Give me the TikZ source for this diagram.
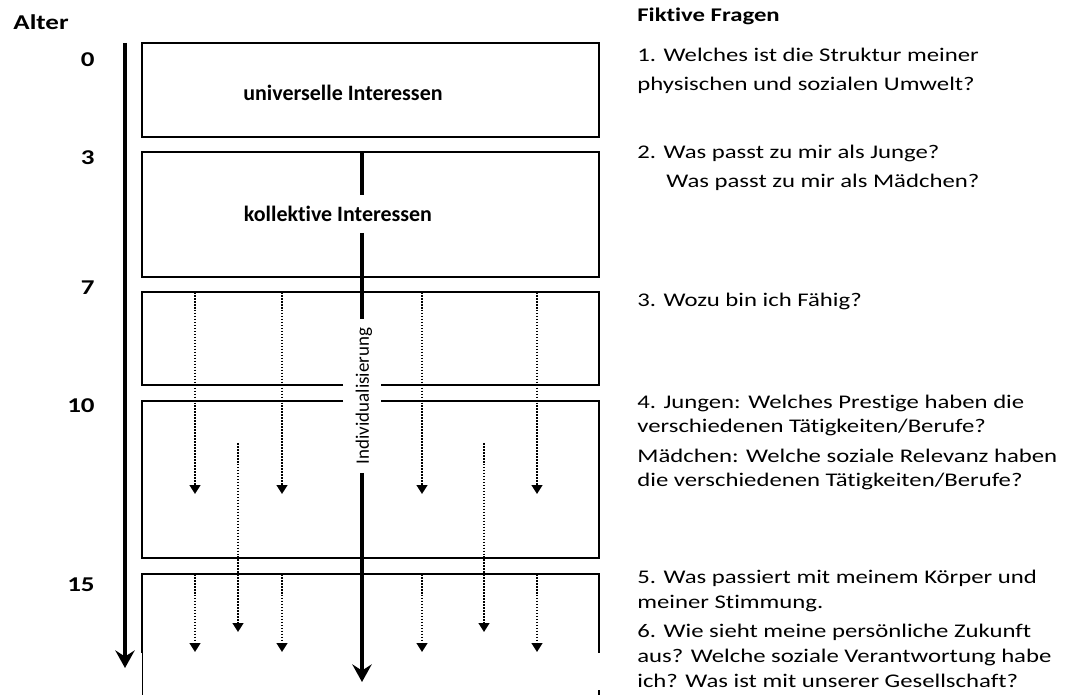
\documentclass[tikz,border=0pt]{standalone}
\usepackage{fontspec}
\setmainfont{Carlito}[Ligatures=NoCommon]
\newfontfamily\widefont{Carlito}[FakeStretch=1.28,Ligatures=NoCommon]
\usetikzlibrary{arrows.meta}
\begin{document}
\begin{tikzpicture}
[x=0.02cm, y=-0.02cm,
  boxDecorate/.style={line width=1.1pt},
  axisDecorate/.style={line width=2pt,-{Stealth[length=10pt,width=11pt,inset=3.5pt]}},
  flowDecorate/.style={line width=1.1pt,dash pattern=on 0.9pt off 0.8pt,-{Triangle[length=5pt,width=6pt]}},
  ageDecorate/.style={inner sep=0pt,font=\widefont\bfseries\fontsize{12}{14}\selectfont},
  labelDecorate/.style={font=\bfseries\fontsize{12.5}{14}\selectfont},
  questDecorate/.style={anchor=base west,inner sep=0pt,font=\widefont\fontsize{11}{13}\selectfont}]
\useasboundingbox (0,0) rectangle (1065,695);
%% headings
\node (alter) at (41,30) [ageDecorate,anchor=base] {Alter};
\node (fragen) at (637,22) [questDecorate] {\bfseries Fiktive Fragen};
%% ages
\foreach \nodename/\y in {0/67, 3/165, 7/295, 10/413, 15/592}
{
  \node (age\nodename) at (95,\y) [ageDecorate,anchor=base east] {\nodename};
}
%% boxes
\draw[boxDecorate] (142,43) rectangle (599,137);
\draw[boxDecorate] (142,152) rectangle (599,277);
\draw[boxDecorate] (343,385) -| (142,292) -| (599,385) -- (381,385);
\draw[boxDecorate] (343,401) -| (142,558) -| (599,401) -- (381,401);
\draw[boxDecorate] (142,653) |- (599,574) -- (599,653);
\draw[thin] (142,653) -- (142,695);
\draw[boxDecorate] (599,690) -- (599,695);
\node (univ) at (343,93) [labelDecorate] {universelle Interessen};
\node (koll) at (338,214) [labelDecorate] {kollektive Interessen};
\node (indiv) at (364,396) [rotate=90,font=\fontsize{10.8}{12}\selectfont] {Individualisierung};
%% axis and middle line
\coordinate (a0) at (125,43);
\coordinate (a1) at (125,668);
\coordinate (m0) at (362,152);
\coordinate (m1) at (362,195);
\coordinate (m2) at (362,233);
\coordinate (m3) at (362,319);
\coordinate (m4) at (362,473);
\coordinate (m5) at (362,682);
\draw[axisDecorate] (a0) -- (a1);
\draw[line width=2pt] (m0) -- (m1) (m2) -- (m3);
\draw[axisDecorate] (m4) -- (m5);
%% dotted arrows
\foreach \nodename/\x/\ya/\yb in {
  a/195/292/494, b/282/292/494, c/422/292/494, d/537/292/494,
  e/195/574/652, f/282/574/652, g/422/574/652, h/537/574/652,
  i/238/443/632, j/484/443/632}
{
  \coordinate (\nodename s) at (\x,\ya);
  \coordinate (\nodename e) at (\x,\yb);
}
\path
\foreach \nodename in {a,b,c,d,e,f,g,h,i,j}
{
  (\nodename s) edge[flowDecorate] (\nodename e)
};
%% questions
\foreach \nodename/\x/\y/\txt in {
  q1a/637/62/{1. Welches ist die Struktur meiner},
  q1b/637/91/{physischen und sozialen Umwelt?},
  q2a/637/159/{2. Was passt zu mir als Junge?},
  q2b/666/188/{Was passt zu mir als Mädchen?},
  q3/637/307/{3. Wozu bin ich Fähig?},
  q4a/637/409/{4. Jungen: Welches Prestige haben die},
  q4b/637/433/{verschiedenen Tätigkeiten/Berufe?},
  q4c/637/463/{Mädchen: Welche soziale Relevanz haben},
  q4d/637/487/{die verschiedenen Tätigkeiten/Berufe?},
  q5a/637/583/{5. Was passiert mit meinem Körper und},
  q5b/637/608/{meiner Stimmung.},
  q6a/637/637/{6. Wie sieht meine persönliche Zukunft},
  q6b/637/663/{aus? Welche soziale Verantwortung habe},
  q6c/637/687/{ich? Was ist mit unserer Gesellschaft?}}
{
  \node (\nodename) at (\x,\y) [questDecorate] {\txt};
}
\end{tikzpicture}
\end{document}
